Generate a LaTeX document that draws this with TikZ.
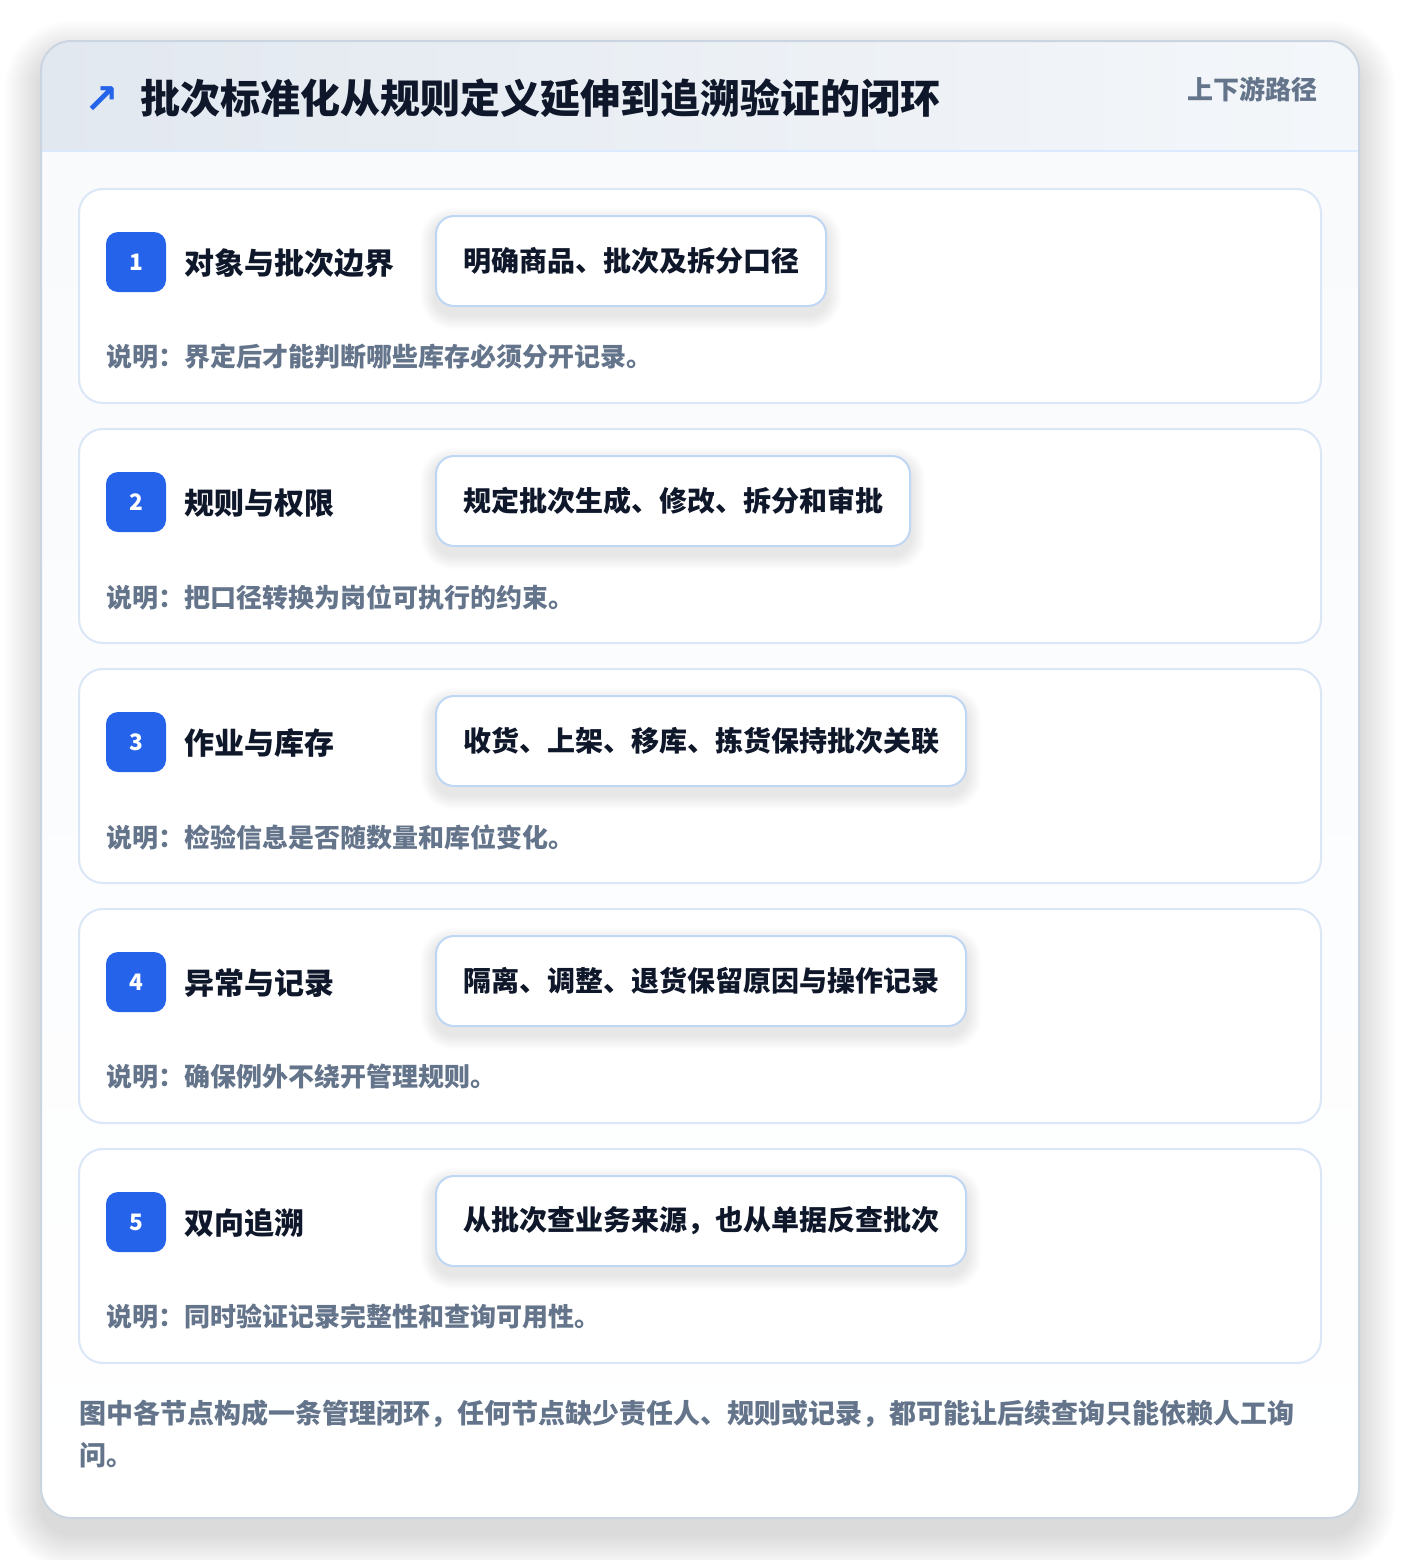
\documentclass[tikz,border=0pt]{standalone}
\usepackage{fontspec}
\setmainfont{Noto Sans CJK SC}
\newfontfamily\symf{DejaVu Sans}
\definecolor{cardborder}{HTML}{CBD5E1}
\definecolor{hdrA}{HTML}{E2E8F0}
\definecolor{hdrB}{HTML}{F4F7FA}
\definecolor{hline}{HTML}{DBEAFE}
\definecolor{stepborder}{HTML}{DBE7F7}
\definecolor{boxborder}{HTML}{BFD7F5}
\definecolor{accent}{HTML}{2563EB}
\definecolor{ink}{HTML}{0F172A}
\definecolor{muted}{HTML}{64748B}
\definecolor{bodybg}{HTML}{F8FAFC}
\definecolor{shade}{HTML}{1E293B}
\tikzset{
  stepcard/.style={draw=stepborder, line width=1.5pt, fill=white, rounded corners=18pt},
  badge/.style={fill=accent, rounded corners=9pt, minimum size=45pt, inner sep=0pt,
    text=white, font=\bfseries\fontsize{17pt}{18pt}\selectfont},
  steplabel/.style={anchor=west, inner sep=0pt, text=ink, font=\bfseries\fontsize{22.5pt}{26pt}\selectfont},
  ibox/.style={anchor=west, draw=boxborder, line width=1.5pt, fill=white, rounded corners=13.5pt,
    minimum height=67.5pt, inner xsep=20.25pt, inner ysep=0pt, text=ink,
    font=\bfseries\fontsize{21pt}{24pt}\selectfont},
  note/.style={anchor=west, inner sep=0pt, text=muted, font=\bfseries\fontsize{19.5pt}{22pt}\selectfont},
  softshade/.style={fill=shade, opacity=0.006},
}
\newcommand\mystep[5]{%
  \draw[stepcard] (79,#2) rectangle (1321,#2+214);
  \node[badge] (b#1) at (136,#2+73) {#1};
  \node[steplabel] (l#1) at (184,#2+74) {#3};
  \node[ibox, text opacity=0, draw opacity=0, fill opacity=0] (sx#1) at (435,#2+72) {#4};
  \foreach \k in {1,...,12}{
    \pgfmathsetmacro\rr{13.5+0.9*\k}
    \fill[softshade, rounded corners=\rr pt]
      ([xshift=-\k*0.9pt, yshift=\k*0.9pt-5pt]sx#1.north west) rectangle
      ([xshift=\k*0.9pt, yshift=-\k*0.9pt-6pt]sx#1.south east);
  }
  \node[ibox] (x#1) at (435,#2+72) {#4};
  \node[note] (n#1) at (106,#2+168) {#5};
}
\begin{document}
\begin{tikzpicture}[x=0.75pt,y=-0.75pt]
\fill[white] (0,0) rectangle (1400,1560);
\useasboundingbox (0,0) rectangle (1400,1560);
% card shadow
\foreach \k in {1,...,18}{
  \pgfmathsetmacro\rr{22.5+1.5*\k}
  \fill[fill=shade, opacity=0.007, rounded corners=\rr pt]
    (41-2*\k,41-2*\k+16) rectangle (1359+2*\k,1518+2*\k+16);
}
\begin{scope}
  \clip[rounded corners=22.5pt] (41,41) rectangle (1359,1518);
  \fill[left color=hdrA, right color=hdrB] (41,41) rectangle (1359,151);
  \fill[top color=bodybg, bottom color=white] (41,151) rectangle (1359,1518);
\end{scope}
\draw[hline, line width=1.5pt] (41,151) -- (1359,151);
\draw[cardborder, line width=1.5pt, rounded corners=22.5pt] (41,41) rectangle (1359,1518);
% header
\node[text=accent, inner sep=0pt, font=\symf\bfseries\fontsize{31pt}{33pt}\selectfont] (icon) at (102,100) {↗};
\node[anchor=west, inner sep=0pt, text=ink, font=\bfseries\fontsize{30pt}{34pt}\selectfont] (title) at (140,98)
  {批次标准化从规则定义延伸到追溯验证的闭环};
\node[anchor=east, inner sep=0pt, text=muted, font=\bfseries\fontsize{19.5pt}{22pt}\selectfont] (tag) at (1318,89)
  {上下游路径};
% steps
\mystep{1}{189}{对象与批次边界}{明确商品、批次及拆分口径}{说明：界定后才能判断哪些库存必须分开记录。}
\mystep{2}{429}{规则与权限}{规定批次生成、修改、拆分和审批}{说明：把口径转换为岗位可执行的约束。}
\mystep{3}{669}{作业与库存}{收货、上架、移库、拣货保持批次关联}{说明：检验信息是否随数量和库位变化。}
\mystep{4}{909}{异常与记录}{隔离、调整、退货保留原因与操作记录}{说明：确保例外不绕开管理规则。}
\mystep{5}{1149}{双向追溯}{从批次查业务来源，也从单据反查批次}{说明：同时验证记录完整性和查询可用性。}
% footer
\node[anchor=north west, inner sep=0pt, align=left, text=muted,
  font=\bfseries\fontsize{20.25pt}{31.5pt}\selectfont] (foot) at (79,1400)
  {图中各节点构成一条管理闭环，任何节点缺少责任人、规则或记录，都可能让后续查询只能依赖人工询\\问。};
\end{tikzpicture}
\end{document}
